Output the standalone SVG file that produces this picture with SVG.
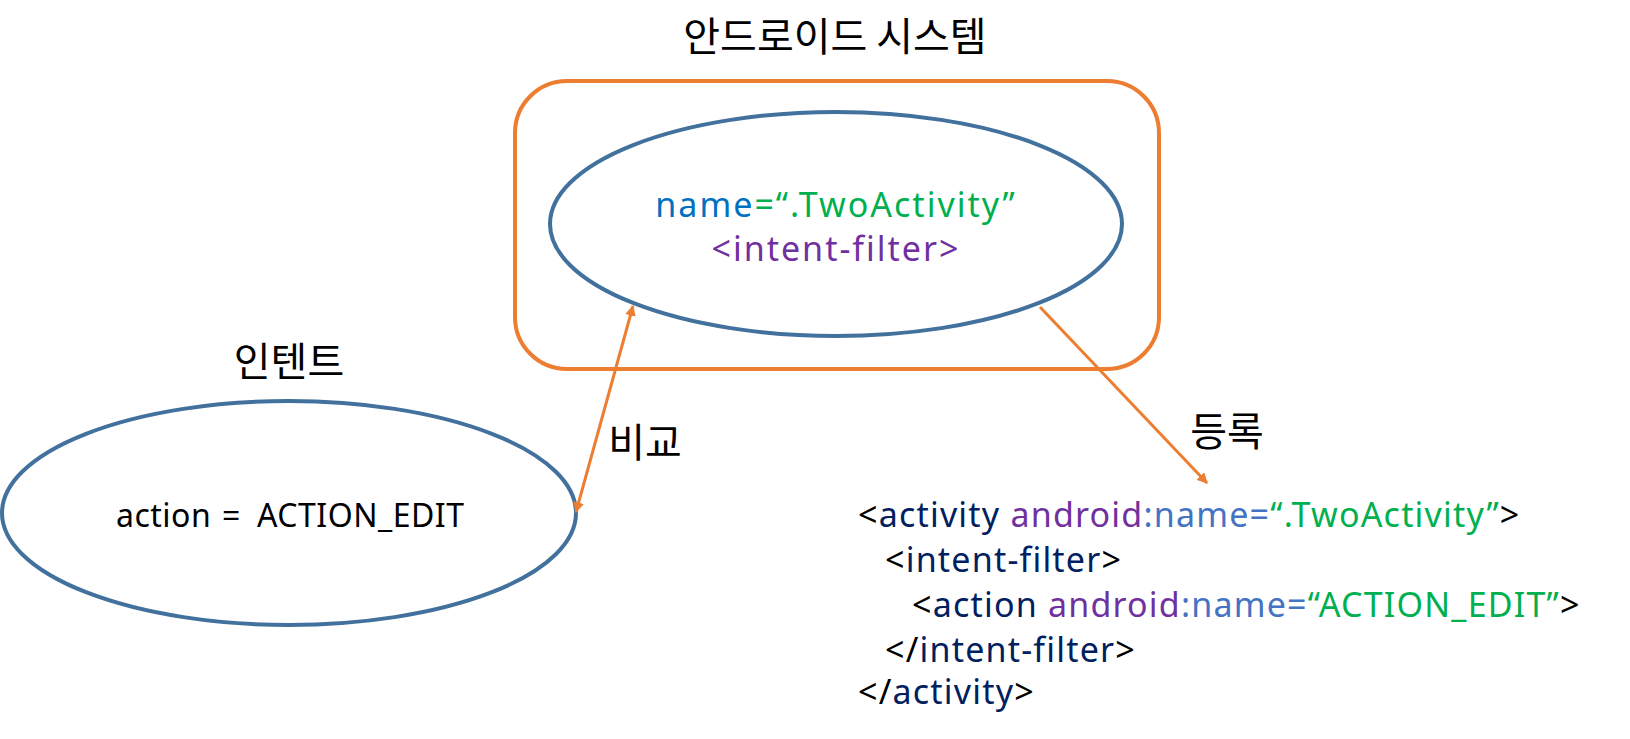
<svg xmlns="http://www.w3.org/2000/svg" width="1630" height="739" viewBox="0 0 1630 739">
<defs>
<style>
text{font-family:"Noto Sans CJK KR","Noto Sans",sans-serif;}
.lat{font-family:"Noto Sans","Noto Sans CJK KR",sans-serif;}
.ko{font-size:40px;fill:#000;text-anchor:middle;}
.ell{fill:#fff;stroke:#41719C;stroke-width:4;}
.con{stroke:#ED7D31;stroke-width:3;fill:none;}
.code{font-size:34px;letter-spacing:1.2px;fill:#000;}
.nv{fill:#002060;}.pu{fill:#7030A0;}.lb{fill:#4472C4;}.gr{fill:#00B050;}.bl{fill:#0070C0;}
</style>
<marker id="ah" viewBox="0 0 10 10" refX="9" refY="5" markerWidth="3.6" markerHeight="3.6" orient="auto-start-reverse" markerUnits="strokeWidth">
<path d="M0,0 L10,5 L0,10 z" fill="#ED7D31"/>
</marker>
</defs>
<g id="system">
<text class="ko" x="835" y="51" font-size="41">안드로이드 시스템</text>
<rect x="515" y="81" width="644" height="288" rx="52" ry="52" fill="none" stroke="#ED7D31" stroke-width="4"/>
</g>
<g id="activity-node">
<ellipse class="ell" cx="836" cy="224" rx="286" ry="112"/>
<text class="lat" x="836" y="217" font-size="34" letter-spacing="2" text-anchor="middle"><tspan class="bl">name</tspan><tspan class="gr">=“.TwoActivity”</tspan></text>
<text class="lat pu" x="836" y="261" font-size="34" letter-spacing="2" text-anchor="middle">&lt;intent-filter&gt;</text>
</g>
<g id="intent-node">
<text class="ko" x="289" y="376">인텐트</text>
<ellipse class="ell" cx="289" cy="513" rx="287" ry="112"/>
<text class="lat" y="527" font-size="32" letter-spacing="0.5" fill="#000"><tspan x="116">action</tspan><tspan x="222">=</tspan><tspan x="257">ACTION_EDIT</tspan></text>
</g>
<g id="connectors">
<line class="con" x1="633" y1="306" x2="576" y2="512" marker-start="url(#ah)" marker-end="url(#ah)"/>
<text class="ko" x="645" y="457">비교</text>
<line class="con" x1="1040" y1="307" x2="1207" y2="483" marker-end="url(#ah)"/>
<text class="ko" x="1227" y="446">등록</text>
</g>
<g id="manifest">
<text class="code lat" x="858" y="527">&lt;<tspan class="nv">activity</tspan> <tspan class="pu">android</tspan><tspan class="lb">:name=</tspan><tspan class="gr">“.TwoActivity”</tspan>&gt;</text>
<text class="code lat" x="885" y="572">&lt;<tspan class="nv">intent-filter</tspan>&gt;</text>
<text class="code lat" x="912" y="617">&lt;<tspan class="nv">action</tspan> <tspan class="pu">android</tspan><tspan class="lb">:name=</tspan><tspan class="gr">“ACTION_EDIT”</tspan>&gt;</text>
<text class="code lat" x="885" y="662">&lt;/<tspan class="nv">intent-filter</tspan>&gt;</text>
<text class="code lat" x="858" y="704">&lt;/<tspan class="nv">activity</tspan>&gt;</text>
</g>
</svg>
